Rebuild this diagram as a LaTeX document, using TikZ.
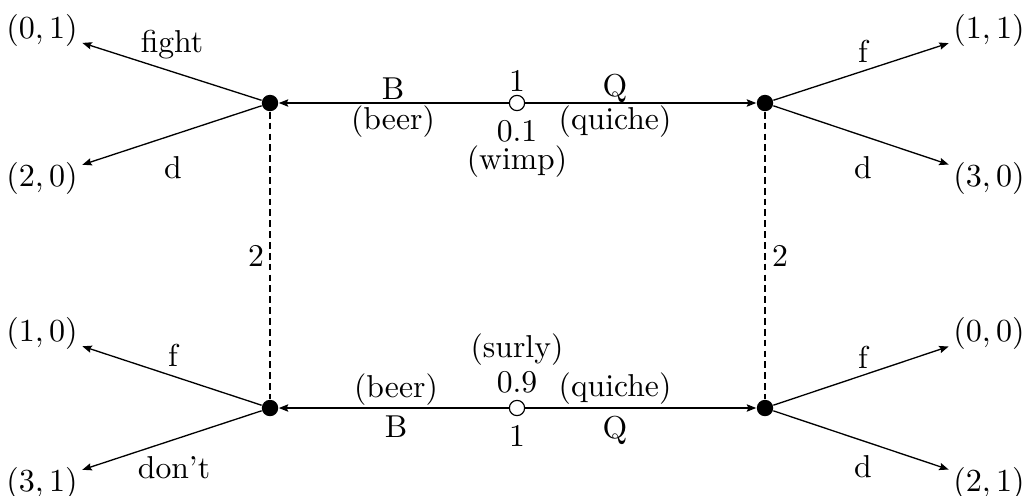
\documentclass[tikz,border=0pt]{standalone}
\usetikzlibrary{arrows.meta}
\begin{document}
\begin{tikzpicture}[x=0.341pt,y=-0.341pt,
  every node/.style={font=\fontsize{10.8pt}{13pt}\selectfont},
  dec/.style={circle,fill=black,inner sep=0pt,minimum size=5.6pt},
  chance/.style={circle,draw=black,fill=white,line width=0.4pt,inner sep=0pt,minimum size=5.2pt},
  pay/.style={inner sep=1.4pt},
  lab/.style={inner sep=0pt},
  arr/.style={line width=0.45pt,-{Stealth[length=3.2pt,width=2.5pt,inset=0.5pt]}},
  info/.style={line width=0.45pt,dash pattern=on 2.3pt off 1.4pt}]
\useasboundingbox (0,0) rectangle (1026,495);
% decision nodes
\node[dec] (LT) at (270,103) {};
\node[dec] (RT) at (765,103) {};
\node[dec] (LB) at (270,408) {};
\node[dec] (RB) at (765,408) {};
% chance nodes
\node[chance] (CT) at (517,103) {};
\node[chance] (CB) at (517,408) {};
% payoffs
\node[pay] (p1) at (42,30) {$(0,1)$};
\node[pay] (p2) at (42,178) {$(2,0)$};
\node[pay] (p3) at (989,30) {$(1,1)$};
\node[pay] (p4) at (989,178) {$(3,0)$};
\node[pay] (p5) at (42,333) {$(1,0)$};
\node[pay] (p6) at (42,483) {$(3,1)$};
\node[pay] (p7) at (989,333) {$(0,0)$};
\node[pay] (p8) at (989,483) {$(2,1)$};
% connectors
\draw[arr] (CT) -- (LT);
\draw[arr] (CT) -- (RT);
\draw[arr] (CB) -- (LB);
\draw[arr] (CB) -- (RB);
\draw[arr] (LT) -- (p1);
\draw[arr] (LT) -- (p2);
\draw[arr] (RT) -- (p3);
\draw[arr] (RT) -- (p4);
\draw[arr] (LB) -- (p5);
\draw[arr] (LB) -- (p6);
\draw[arr] (RB) -- (p7);
\draw[arr] (RB) -- (p8);
\draw[info] (LT) -- (LB);
\draw[info] (RT) -- (RB);
% labels
\node[lab] (l1) at (172,45) {fight};
\node[lab] (l2) at (173,168) {d};
\node[lab] (l3) at (863,51) {f};
\node[lab] (l4) at (863,168) {d};
\node[lab] (l5) at (173,355) {f};
\node[lab] (l6) at (174,468) {don't};
\node[lab] (l7) at (863,357) {f};
\node[lab] (l8) at (863,467) {d};
\node[lab] (i1) at (256,256) {2};
\node[lab] (i2) at (780,256) {2};
% top signalling labels
\node[lab] (t1) at (517,81) {1};
\node[lab] (t2) at (517,131) {0.1};
\node[lab] (t3) at (517,162) {(wimp)};
\node[lab] (t4) at (393,89) {B};
\node[lab] (t5) at (393,122) {(beer)};
\node[lab] (t6) at (615,88) {Q};
\node[lab] (t7) at (615,122) {(quiche)};
% bottom signalling labels
\node[lab] (b1) at (517,350) {(surly)};
\node[lab] (b2) at (517,382) {0.9};
\node[lab] (b3) at (517,436) {1};
\node[lab] (b4) at (396,390) {(beer)};
\node[lab] (b5) at (396,427) {B};
\node[lab] (b6) at (615,389) {(quiche)};
\node[lab] (b7) at (615,430) {Q};
\end{tikzpicture}
\end{document}
